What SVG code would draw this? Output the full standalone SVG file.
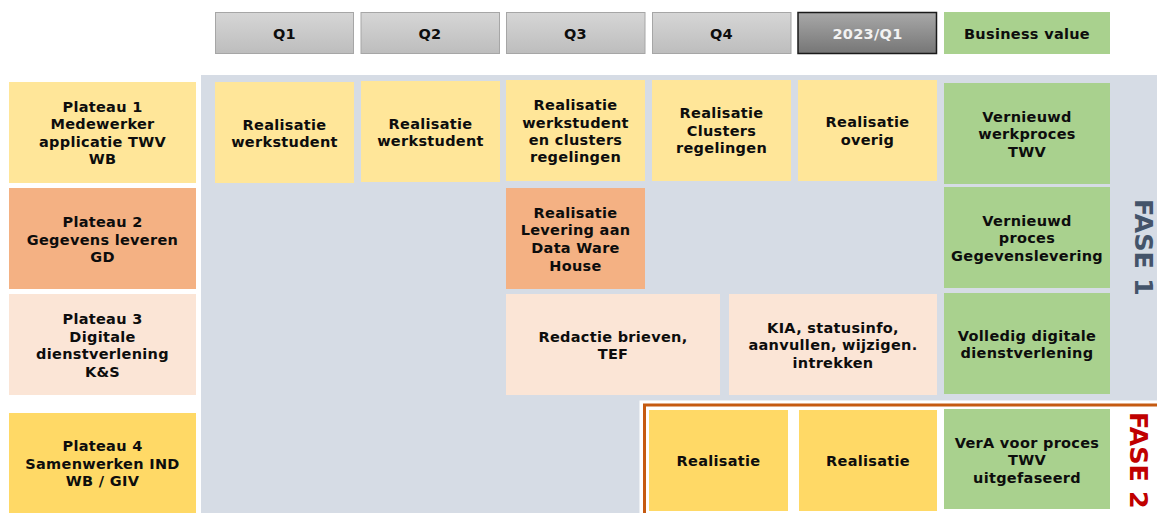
<svg xmlns="http://www.w3.org/2000/svg" width="1157" height="513" viewBox="0 0 1157 513">
<defs>
<linearGradient id="gq" x1="0" y1="0" x2="0" y2="1"><stop offset="0" stop-color="#d6d6d6"/><stop offset="1" stop-color="#bdbdbd"/></linearGradient>
<linearGradient id="gd" x1="0" y1="0" x2="0" y2="1"><stop offset="0" stop-color="#a8a8a8"/><stop offset="1" stop-color="#767676"/></linearGradient>
</defs>
<style>
text{font-family:"DejaVu Sans",Verdana,sans-serif;font-weight:bold;font-size:14.5px;letter-spacing:0.3px;text-anchor:middle;fill:#0d0d0d}
.q{fill:url(#gq);stroke:#a6a6a6;stroke-width:1}
.qd{fill:url(#gd);stroke:#1a1a1a;stroke-width:1.5}
.y1{fill:#ffe699}
.or{fill:#f4b183}
.pe{fill:#fbe5d6}
.y2{fill:#ffd966}
.gr{fill:#a9d18e}
.wt{fill:#f2f2f2}
.fase{font-size:25.5px;letter-spacing:0;text-anchor:start}
</style>
<rect width="1157" height="513" fill="#ffffff"/>
<rect x="201" y="75" width="956" height="438" fill="#d6dce5"/>
<!-- Phase 2 frame -->
<g id="fase2-frame">
<rect x="639.5" y="400.5" width="530" height="130" fill="#ffffff"/>
<rect x="644.5" y="405" width="530" height="130" fill="#ffffff" stroke="#c55a11" stroke-width="3"/>
</g>
<!-- Header -->
<g id="h-q1"><rect class="q" x="215.5" y="12.5" width="138" height="41"/><text x="284.5" y="39">Q1</text></g>
<g id="h-q2"><rect class="q" x="361" y="12.5" width="138.5" height="41"/><text x="430" y="39">Q2</text></g>
<g id="h-q3"><rect class="q" x="506.5" y="12.5" width="138.5" height="41"/><text x="575.5" y="39">Q3</text></g>
<g id="h-q4"><rect class="q" x="652.5" y="12.5" width="138.5" height="41"/><text x="721.5" y="39">Q4</text></g>
<g id="h-2023"><rect class="qd" x="798" y="12.5" width="138.5" height="41"/><text class="wt" x="867.5" y="39">2023/Q1</text></g>
<g id="h-bv"><rect class="gr" x="944" y="12" width="166" height="42"/><text x="1027" y="39">Business value</text></g>
<!-- Plateaus -->
<g id="plateau1"><rect class="y1" x="9" y="82" width="187" height="101"/>
<text x="102.5" y="112">Plateau 1</text><text x="102.5" y="129.3">Medewerker</text><text x="102.5" y="146.7">applicatie TWV</text><text x="102.5" y="164">WB</text></g>
<g id="plateau2"><rect class="or" x="9" y="188" width="187" height="101"/>
<text x="102.5" y="227.3">Plateau 2</text><text x="102.5" y="244.5">Gegevens leveren</text><text x="102.5" y="262">GD</text></g>
<g id="plateau3"><rect class="pe" x="9" y="294" width="187" height="101"/>
<text x="102.5" y="324">Plateau 3</text><text x="102.5" y="342">Digitale</text><text x="102.5" y="359.3">dienstverlening</text><text x="102.5" y="377">K&amp;S</text></g>
<g id="plateau4"><rect class="y2" x="9" y="413" width="187" height="100"/>
<text x="102.5" y="451">Plateau 4</text><text x="102.5" y="468.7">Samenwerken IND</text><text x="102.5" y="486">WB / GIV</text></g>
<!-- Row 1 -->
<g id="r1-q1"><rect class="y1" x="215" y="82" width="139" height="101"/>
<text x="284.5" y="130">Realisatie</text><text x="284.5" y="147.3">werkstudent</text></g>
<g id="r1-q2"><rect class="y1" x="361" y="81" width="139" height="101"/>
<text x="430.5" y="128.5">Realisatie</text><text x="430.5" y="145.7">werkstudent</text></g>
<g id="r1-q3"><rect class="y1" x="506" y="80" width="139" height="101"/>
<text x="575.5" y="110.3">Realisatie</text><text x="575.5" y="127.5">werkstudent</text><text x="575.5" y="144.7">en clusters</text><text x="575.5" y="161.5">regelingen</text></g>
<g id="r1-q4"><rect class="y1" x="652" y="80" width="139" height="101"/>
<text x="721.5" y="118.3">Realisatie</text><text x="721.5" y="135.7">Clusters</text><text x="721.5" y="152.7">regelingen</text></g>
<g id="r1-2023"><rect class="y1" x="798" y="80" width="139" height="101"/>
<text x="867.5" y="127">Realisatie</text><text x="867.5" y="144.5">overig</text></g>
<g id="r1-bv"><rect class="gr" x="944" y="83" width="166" height="101"/>
<text x="1027" y="121.7">Vernieuwd</text><text x="1027" y="139">werkproces</text><text x="1027" y="156.5">TWV</text></g>
<!-- Row 2 -->
<g id="r2-q3"><rect class="or" x="506" y="188" width="139" height="101"/>
<text x="575.5" y="217.7">Realisatie</text><text x="575.5" y="235">Levering aan</text><text x="575.5" y="252.7">Data Ware</text><text x="575.5" y="270.5">House</text></g>
<g id="r2-bv"><rect class="gr" x="944" y="187" width="166" height="101"/>
<text x="1027" y="225.7">Vernieuwd</text><text x="1027" y="243.3">proces</text><text x="1027" y="260.7">Gegevenslevering</text></g>
<!-- Row 3 -->
<g id="r3-redactie"><rect class="pe" x="506" y="294" width="214" height="101"/>
<text x="613" y="341.7">Redactie brieven,</text><text x="613" y="358.7">TEF</text></g>
<g id="r3-kia"><rect class="pe" x="729" y="294" width="208" height="101"/>
<text x="833" y="333">KIA, statusinfo,</text><text x="833" y="350.3">aanvullen, wijzigen.</text><text x="833" y="367.7">intrekken</text></g>
<g id="r3-bv"><rect class="gr" x="944" y="293" width="166" height="101"/>
<text x="1027" y="340.7">Volledig digitale</text><text x="1027" y="357.7">dienstverlening</text></g>
<!-- Row 4 (Fase 2) -->
<g id="r4-q4"><rect class="y2" x="649" y="410" width="139" height="101"/>
<text x="718.5" y="466">Realisatie</text></g>
<g id="r4-2023"><rect class="y2" x="799" y="410" width="138" height="101"/>
<text x="868" y="466">Realisatie</text></g>
<g id="r4-bv"><rect class="gr" x="944" y="409" width="166" height="100"/>
<text x="1027" y="447.5">VerA voor proces</text><text x="1027" y="465">TWV</text><text x="1027" y="482.5">uitgefaseerd</text></g>
<!-- Phase labels -->
<g id="fase1"><text class="fase" transform="translate(1135,199) rotate(90)" style="fill:#44546a">FASE 1</text></g>
<g id="fase2"><text class="fase" transform="translate(1129.5,412) rotate(90)" style="fill:#c00000">FASE 2</text></g>
<g id="connectors"/>
</svg>
